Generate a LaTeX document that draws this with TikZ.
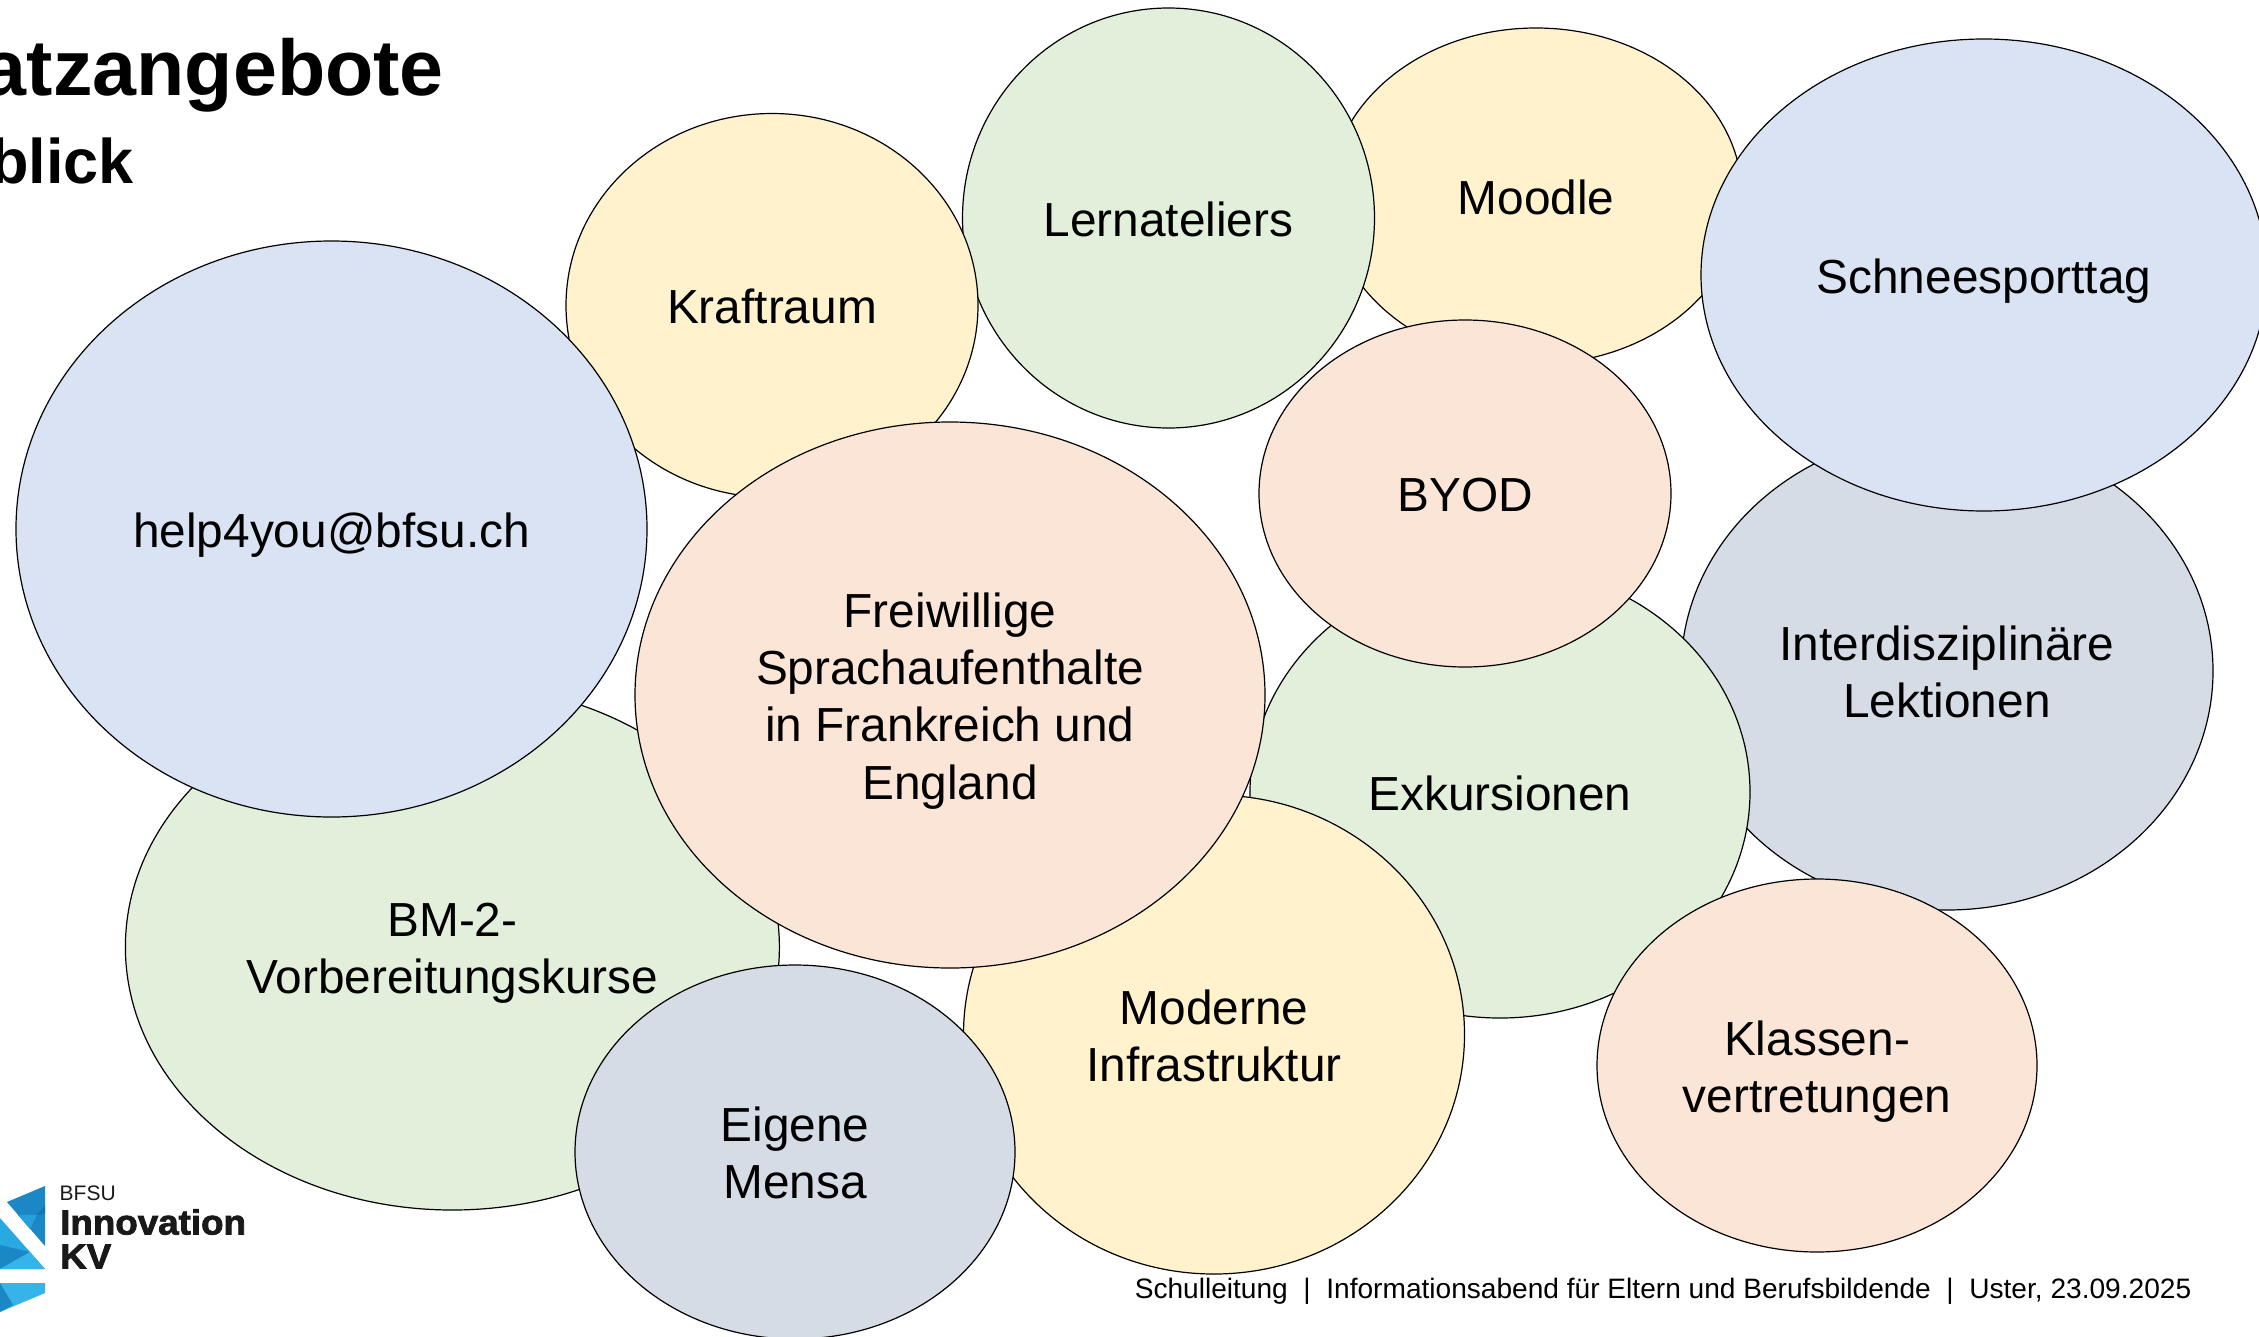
\documentclass[tikz,border=0pt]{standalone}
\usepackage{fontspec}
\setmainfont{Liberation Sans}
\newfontfamily\logofont[BoldFeatures={FakeBold=2.2}]{Liberation Sans}
\usetikzlibrary{shapes.geometric}
\definecolor{cyellow}{HTML}{FFF2CC}
\definecolor{cgreen}{HTML}{E2EFDA}
\definecolor{cblue}{HTML}{DAE3F3}
\definecolor{cpeach}{HTML}{FBE5D6}
\definecolor{cslate}{HTML}{D6DCE5}
\newcommand{\mfirst}{\rule{0pt}{46.4pt}}
\newcommand{\mlast}{\rule[-10pt]{0pt}{10pt}}
\tikzset{
  bubm/.style={ellipse,draw=black,line width=1.2pt,inner sep=0pt,align=center,text=black,
    font=\fontsize{47.8pt}{57.4pt}\selectfont},
  bub/.style={bubm},
  titletext/.style={inner sep=0pt,text=black,font=\fontsize{79pt}{90pt}\selectfont\bfseries},
  subtitletext/.style={inner sep=0pt,text=black,font=\fontsize{63pt}{70pt}\selectfont\bfseries},
  foot/.style={inner sep=0pt,text=black,font=\fontsize{28.1pt}{34pt}\selectfont},
  logosmall/.style={inner sep=0pt,text=black!90,font=\fontsize{21pt}{24pt}\selectfont},
  logobig/.style={inner sep=0pt,text=black!90,font=\logofont\bfseries\fontsize{35pt}{36pt}\selectfont},
}
\begin{document}
\begin{tikzpicture}[x=1pt,y=-1pt]
\useasboundingbox (0,0) rectangle (2259,1336);
\clip (0,0) rectangle (2259,1336);
\fill[white] (0,0) rectangle (2259,1336);
% bubbles, back to front
\node[bub,fill=cyellow,minimum width=412pt,minimum height=336pt] (moodle) at (1536,196) {\mfirst Moodle\mlast};
\node[bub,fill=cgreen,minimum width=412pt,minimum height=420pt] (lern) at (1168.5,218) {\mfirst Lernateliers\mlast};
\node[bub,fill=cyellow,minimum width=412pt,minimum height=384pt] (kraft) at (772,305.5) {\mfirst Kraftraum\mlast};
\node[bubm,fill=cslate,minimum width=532pt,minimum height=478pt] (inter) at (1947,671) {\mfirst Interdisziplinäre\\Lektionen\mlast};
\node[bub,fill=cblue,minimum width=566pt,minimum height=472pt] (schnee) at (1984,275) {\mfirst Schneesporttag\mlast};
\node[bub,fill=cgreen,minimum width=500pt,minimum height=452pt] (exk) at (1500,792) {\mfirst Exkursionen\mlast};
\node[bubm,fill=cgreen,minimum width=654pt,minimum height=526pt] (bm) at (452.4,947) {\mfirst BM-2-\\Vorbereitungskurse\mlast};
\node[bubm,fill=cyellow,minimum width=501pt,minimum height=479pt] (mod) at (1214,1034.5) {\mfirst Moderne\\Infrastruktur\mlast};
\node[bub,fill=cpeach,minimum width=412pt,minimum height=347pt] (byod) at (1465,493.5) {\mfirst BYOD\mlast};
\node[bub,fill=cblue,minimum width=631pt,minimum height=576pt] (help) at (331.5,529) {\mfirst help4you@bfsu.ch\mlast};
\node[bubm,fill=cpeach,minimum width=630pt,minimum height=546pt] (frei) at (950,695) {\mfirst Freiwillige\\Sprachaufenthalte\\in Frankreich und\\England\mlast};
\node[bubm,fill=cslate,minimum width=440pt,minimum height=374pt] (mensa) at (795,1152) {\mfirst Eigene\\Mensa\mlast};
\node[bubm,fill=cpeach,minimum width=440pt,minimum height=373pt] (klass) at (1817,1065.5) {\mfirst Klassen-\\vertretungen\mlast};
% title
\node[titletext,anchor=base east] (title) at (444,95) {atzangebote};
\node[subtitletext,anchor=base east] (subtitle) at (134,183) {blick};
% footer
\node[foot,anchor=base east] (footer) at (2191.5,1298) {Schulleitung \ |\ \ Informationsabend für Eltern und Berufsbildende \ |\ \ Uster, 23.09.2025};
% logo
\fill[fill={rgb,255:red,27;green,135;blue,196}] (7,1202) -- (45,1186) -- (45,1246) -- cycle;
\fill[fill={rgb,255:red,23;green,118;blue,178}] (45,1205) -- (45,1214) -- (37,1215) -- cycle;
\fill[fill={rgb,255:red,36;green,160;blue,220}] (18,1215) -- (37,1215) -- (30,1229) -- cycle;
\fill[fill={rgb,255:red,41;green,169;blue,225}] (0,1218) -- (45,1269) -- (0,1269) -- cycle;
\fill[fill={rgb,255:red,27;green,135;blue,196}] (0,1269) -- (0,1245) -- (30,1252) -- cycle;
\fill[fill={rgb,255:red,54;green,180;blue,233}] (0,1269) -- (30,1252) -- (45,1269) -- cycle;
\fill[fill={rgb,255:red,54;green,180;blue,233}] (0,1283) -- (45,1283) -- (45,1293) -- (0,1312) -- cycle;
\fill[fill={rgb,255:red,27;green,135;blue,196}] (0,1283) -- (13,1305) -- (0,1312) -- cycle;
\node[logosmall,anchor=base west] (bfsu) at (59.5,1200.5) {BFSU};
\node[logobig,anchor=base west] (innov) at (60,1234.5) {\scalebox{1.05}[1]{\textbf{Innovation}}};
\node[logobig,anchor=base west] (kv) at (60,1268.5) {\scalebox{1.05}[1]{\textbf{KV}}};
\end{tikzpicture}
\end{document}
